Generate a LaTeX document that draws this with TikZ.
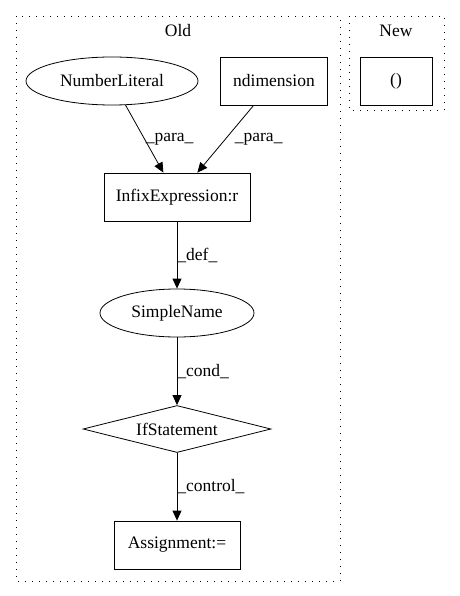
\documentclass[tikz,border=0pt]{standalone}
\usepackage{fontspec}
\setmainfont{Liberation Serif}
\usetikzlibrary{arrows.meta,shapes.geometric}
\tikzset{
  box/.style={draw, line width=0.8pt, minimum height=48pt, inner sep=3pt,
              font=\fontsize{17.5}{20}\selectfont},
  oval/.style={box, ellipse, minimum height=48pt},
  cond/.style={box, diamond, aspect=3.9, minimum height=47pt, inner sep=0pt},
  cluster/.style={draw, line width=0.8pt, dash pattern=on 1pt off 6pt},
  arrow/.style={-{Triangle[length=10pt,width=9pt]}, line width=0.8pt},
  lab/.style={anchor=west, inner sep=0pt, font=\fontsize{17.5}{20}\selectfont}
}
\begin{document}
\begin{tikzpicture}[x=1pt, y=-1pt]
\useasboundingbox (0,0) rectangle (459,596);
% clusters
\draw[cluster] (16,16) rectangle (340,581);
\draw[cluster] (349,16) rectangle (444,110);
\node[lab, anchor=center] (oldlbl) at (178,31) {Old};
\node[lab, anchor=center] (newlbl) at (396,31) {New};
% nodes
\node[oval, minimum width=172pt] (numlit) at (112,81) {NumberLiteral};
\node[box, minimum width=107pt] (ndim) at (274,81) {ndimension};
\node[box, minimum width=72pt] (paren) at (396,81) {()};
\node[box, minimum width=146pt] (infix) at (177,197) {InfixExpression:r};
\node[oval, minimum width=154pt] (simple) at (177,313) {SimpleName};
\node[cond, minimum width=188pt] (ifst) at (177,429) {IfStatement};
\node[box, minimum width=126pt] (assign) at (177,545) {Assignment:=};
% edges
\draw[arrow] (numlit) -- node[lab, xshift=1pt] {\_para\_} (infix);
\draw[arrow] (ndim) -- node[lab, xshift=9pt] {\_para\_} (infix);
\draw[arrow] (infix) -- node[lab] {\_def\_} (simple);
\draw[arrow] (simple) -- node[lab] {\_cond\_} (ifst);
\draw[arrow] (ifst) -- node[lab] {\_control\_} (assign);
\end{tikzpicture}
\end{document}
